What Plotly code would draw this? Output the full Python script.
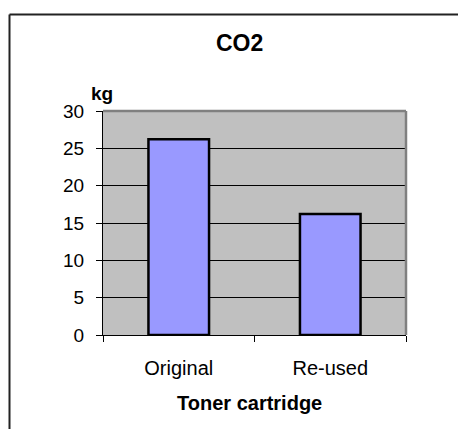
import plotly.graph_objects as go

categories = ["Original", "Re-used"]
co2_kg = [26.2, 16.2]
y_ticks = [0, 5, 10, 15, 20, 25, 30]

OFF = 8  # default page body margin
W, H = 466 - OFF, 429 - OFF
L, R, T, B = 103 - OFF, 406 - OFF, 111 - OFF, 335 - OFF  # plot area in px (figure coords)


def px(x):
    # x in window px -> paper fraction
    return (x - OFF - L) / (R - L)


def py(y):
    return (B - (y - OFF)) / (B - T)


FONT = "Arial, Liberation Sans, sans-serif"

fig = go.Figure(
    go.Bar(
        x=categories,
        y=co2_kg,
        marker=dict(color="#9999FF", line=dict(color="black", width=2.5)),
        hoverinfo="skip",
    )
)

fig.update_layout(
    width=W,
    height=H,
    margin=dict(l=L, r=W - R, t=T, b=H - B, pad=0),
    paper_bgcolor="white",
    plot_bgcolor="#C0C0C0",
    bargap=0.6,
    showlegend=False,
    font=dict(family=FONT, color="black"),
)

fig.update_xaxes(
    range=[-0.5, 1.5],
    showline=True,
    linecolor="black",
    linewidth=1,
    ticks="outside",
    tickson="boundaries",
    ticklen=6,
    tickcolor="black",
    tickwidth=1,
    showgrid=False,
    tickfont=dict(size=20, family=FONT),
    ticklabelstandoff=15,
    fixedrange=True,
)

fig.update_yaxes(
    range=[0, 30],
    tickvals=y_ticks,
    showline=True,
    linecolor="black",
    linewidth=1,
    ticks="outside",
    ticklen=6,
    tickcolor="black",
    tickwidth=1,
    showgrid=True,
    gridcolor="black",
    gridwidth=1,
    zeroline=False,
    tickfont=dict(size=19, family=FONT),
    ticklabelstandoff=8,
    fixedrange=True,
)

shapes = [
    # gray plot-area border (top and right)
    dict(type="line", xref="paper", yref="paper", x0=0, x1=1, y0=1, y1=1,
         line=dict(color="#808080", width=2.5), layer="above"),
    dict(type="line", xref="paper", yref="paper", x0=1, x1=1, y0=0, y1=1,
         line=dict(color="#808080", width=2.5), layer="above"),
    # chart frame (left and top)
    dict(type="line", xref="paper", yref="paper", x0=px(9.5), x1=px(9.5),
         y0=py(14.5), y1=py(440), line=dict(color="#222222", width=2)),
    dict(type="line", xref="paper", yref="paper", x0=px(9.5), x1=px(480),
         y0=py(14.5), y1=py(14.5), line=dict(color="#222222", width=2)),
]

annotations = [
    dict(text="<b>CO2</b>", xref="paper", yref="paper", x=px(239), y=py(43),
         xanchor="center", yanchor="middle", showarrow=False,
         font=dict(size=23, family=FONT, color="black")),
    dict(text="<b>kg</b>", xref="paper", yref="paper", x=px(101.5), y=py(94),
         xanchor="center", yanchor="middle", showarrow=False,
         font=dict(size=19, family=FONT, color="black")),
    dict(text="<b>Toner cartridge</b>", xref="paper", yref="paper", x=px(249), y=py(403),
         xanchor="center", yanchor="middle", showarrow=False,
         font=dict(size=20, family=FONT, color="black")),
]

fig.update_layout(shapes=shapes, annotations=annotations)

fig.write_html("out.html", config={"displayModeBar": False})
